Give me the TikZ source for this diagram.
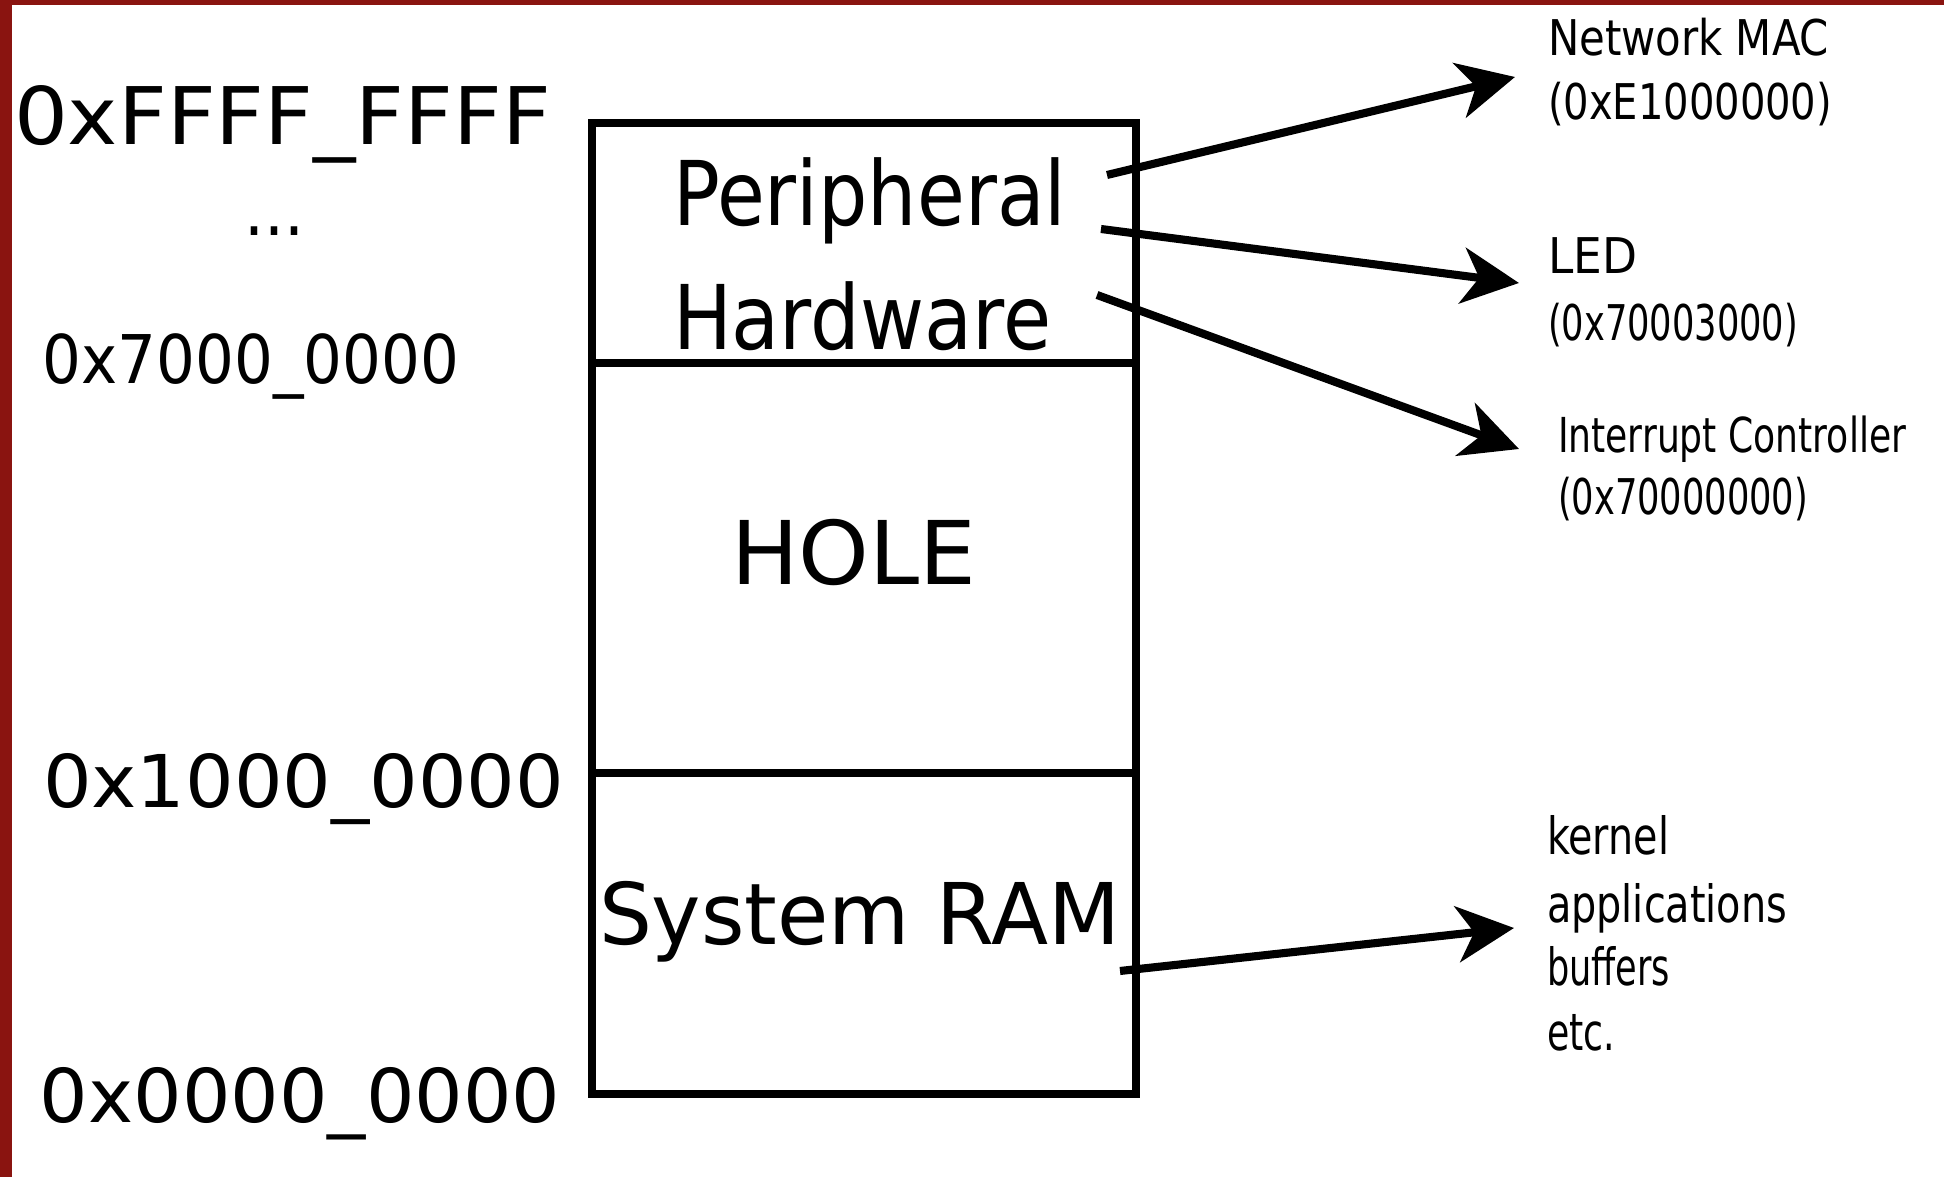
\documentclass[tikz,border=0pt]{standalone}
\usepackage{fontspec}
\setmainfont{DejaVu Sans}
\usetikzlibrary{arrows.meta}
\definecolor{slidered}{RGB}{138,20,16}
\newcommand\fitw[3]{\resizebox{#1}{\height}{\fontsize{#2}{#2}\selectfont #3}}
\begin{document}
\begin{tikzpicture}[x=0.01cm,y=-0.01cm,
  lbl/.style={anchor=base west,inner sep=0pt,outer sep=0pt},
  region/.style={draw=black,line width=2.1pt,fill=none},
  pointer/.style={draw=black,line width=2.3pt,-{Stealth[length=0.57cm,width=0.56cm,inset=0.17cm]}}]
\useasboundingbox (0,0) rectangle (1944,1177);
\fill[white] (0,0) rectangle (1944,1177);
\fill[slidered] (0,0) rectangle (1944,5);
\fill[slidered] (0,0) rectangle (12,1177);
% memory map regions
\draw[region] (592,123) rectangle (1136,363);
\draw[region] (592,363) rectangle (1136,773);
\draw[region] (592,773) rectangle (1136,1094);
% address labels
\node[lbl] (aFFFF) at (14,145) {\fitw{5.37cm}{22.6pt}{0xFFFF\_FFFF}};
\node[lbl] (dots) at (244,236) {\fitw{0.60cm}{20pt}{...}};
\node[lbl] (a7000) at (43,384) {\fitw{4.16cm}{19.1pt}{0x7000\_0000}};
\node[lbl] (a1000) at (43,808) {\fitw{5.21cm}{20.7pt}{0x1000\_0000}};
\node[lbl] (a0000) at (40,1123) {\fitw{5.20cm}{21.1pt}{0x0000\_0000}};
% region names
\node[lbl] (periph) at (673,226) {\fitw{3.93cm}{25.4pt}{Peripheral}};
\node[lbl] (hw) at (673,350) {\fitw{3.78cm}{25.4pt}{Hardware}};
\node[lbl] (hole) at (731,585) {\fitw{2.45cm}{25pt}{HOLE}};
\node[lbl] (ram) at (599,945) {\fitw{5.21cm}{24.2pt}{System RAM}};
% right side labels
\node[lbl] (mac) at (1548,56) {\fitw{2.81cm}{14pt}{Network MAC}};
\node[lbl] (macaddr) at (1548,120) {\fitw{2.84cm}{14pt}{(0xE1000000)}};
\node[lbl] (led) at (1548,274) {\fitw{0.89cm}{14pt}{LED}};
\node[lbl] (ledaddr) at (1548,341) {\fitw{2.50cm}{14pt}{(0x70003000)}};
\node[lbl] (irq) at (1558,453) {\fitw{3.48cm}{13.7pt}{Interrupt Controller}};
\node[lbl] (irqaddr) at (1558,515) {\fitw{2.50cm}{14pt}{(0x70000000)}};
\node[lbl] (kern) at (1547,855) {\fitw{1.22cm}{14.6pt}{kernel}};
\node[lbl] (apps) at (1547,923) {\fitw{2.40cm}{14.6pt}{applications}};
\node[lbl] (buf) at (1547,986) {\fitw{1.23cm}{14.6pt}{buffers}};
\node[lbl] (etc) at (1547,1051) {\fitw{0.68cm}{14.6pt}{etc.}};
% connectors
\coordinate (s1) at (1107,175);
\coordinate (t1) at (1515,77);
\coordinate (s2) at (1101,229);
\coordinate (t2) at (1519,283);
\coordinate (s3) at (1097,295);
\coordinate (t3) at (1519,449);
\coordinate (s4) at (1120,971);
\coordinate (t4) at (1514,928);
\draw[pointer] (s1) -- (t1);
\draw[pointer] (s2) -- (t2);
\draw[pointer] (s3) -- (t3);
\draw[pointer] (s4) -- (t4);
\end{tikzpicture}
\end{document}
